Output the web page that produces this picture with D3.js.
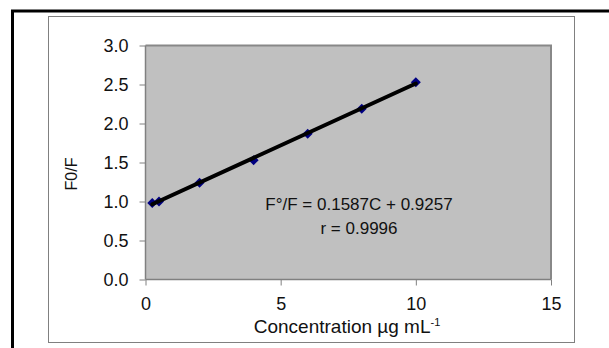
<!DOCTYPE html>
<html>
<head>
<meta charset="utf-8">
<script src="https://cdn.jsdelivr.net/npm/d3@7"></script>
<style>
  html, body { margin: 0; padding: 0; background: #fff; }
  svg { display: block; font-family: "Liberation Sans", Arial, sans-serif; }
</style>
</head>
<body>
<svg id="chart" width="609" height="348"></svg>
<script>
// ===== Data =====
const concentration = [0.25, 0.5, 2, 4, 6, 8, 10];
const ratio         = [0.98, 1.00, 1.24, 1.53, 1.87, 2.19, 2.53];
const xTicks        = [0, 5, 10, 15];
const yTicks        = [0, 0.5, 1.0, 1.5, 2.0, 2.5, 3.0];
const fitSlope      = 0.1587;
const fitIntercept  = 0.9257;
const equationLines = ['F°/F = 0.1587C + 0.9257', 'r = 0.9996'];

const svg = d3.select('#chart');

// --- Frames: outer black border, inner gray chart box ---
svg.append('line').attr('x1', 12.5).attr('y1', 11).attr('x2', 12.5).attr('y2', 348)
    .style('stroke', '#000').style('stroke-width', 3);
svg.append('line').attr('x1', 11).attr('y1', 11).attr('x2', 609).attr('y2', 11)
    .style('stroke', '#000').style('stroke-width', 3);
svg.append('rect').attr('x', 48.5).attr('y', 16.5).attr('width', 526).attr('height', 326)
    .style('fill', '#fff').style('stroke', '#808080').style('stroke-width', 1);

// --- Scales ---
const x = d3.scaleLinear().domain([0, 15]).range([145.5, 551]);
const y = d3.scaleLinear().domain([0, 3]).range([279.5, 45.5]);

// --- Plot area ---
svg.append('rect')
    .attr('x', x(0)).attr('y', y(3))
    .attr('width', x(15) - x(0)).attr('height', y(0) - y(3))
    .style('fill', '#c0c0c0');
// top and right border of plot area
svg.append('path')
    .attr('d', `M${x(0)},${y(3)}H${x(15)}V${y(0)}`)
    .style('fill', 'none').style('stroke', '#888').style('stroke-width', 2);

// --- Axes ---
const xAxis = svg.append('g')
    .attr('transform', `translate(0,${y(0)})`)
    .call(d3.axisBottom(x).tickValues(xTicks).tickSize(6).tickPadding(12).tickFormat(d3.format('d')));
const yAxis = svg.append('g')
    .attr('transform', `translate(${x(0)},0)`)
    .call(d3.axisLeft(y).tickValues(yTicks).tickSize(6).tickPadding(11).tickFormat(d3.format('.1f')));

[xAxis, yAxis].forEach(ax => {
    ax.select('.domain').style('stroke', '#808080').style('stroke-width', 1.5);
    ax.selectAll('.tick line').style('stroke', '#808080');
    ax.selectAll('.tick text')
        .style('font-size', '18px')
        .style('font-family', '"Liberation Sans", Arial, sans-serif')
        .style('fill', '#111');
});
yAxis.select('.domain').attr('d', `M0,${y(3)}V${y(0)}`);
xAxis.select('.domain').attr('d', `M${x(0)},0H${x(15)}`);

// --- Markers (navy diamonds: rotated squares) ---
const square = d3.symbol().type(d3.symbolSquare).size(50);
svg.append('g').selectAll('path')
    .data(concentration.map((c, i) => ({ c, r: ratio[i] })))
    .join('path')
    .attr('d', square)
    .attr('transform', d => `translate(${x(d.c)},${y(d.r)}) rotate(45)`)
    .style('fill', '#000080');

// --- Trend line ---
const cMin = d3.min(concentration), cMax = d3.max(concentration);
svg.append('line')
    .attr('x1', x(cMin)).attr('y1', y(fitSlope * cMin + fitIntercept))
    .attr('x2', x(cMax)).attr('y2', y(fitSlope * cMax + fitIntercept))
    .style('stroke', '#000').style('stroke-width', 4).style('stroke-linecap', 'round');

// --- Equation annotation ---
svg.append('g').selectAll('text')
    .data(equationLines)
    .join('text')
    .attr('x', 359)
    .attr('y', (d, i) => 210 + i * 24)
    .attr('text-anchor', 'middle')
    .style('font-size', '17px')
    .style('fill', '#111')
    .text(d => d);

// --- Axis titles ---
svg.append('text')
    .attr('transform', 'translate(77,174) rotate(-90)')
    .attr('text-anchor', 'middle')
    .style('font-size', '16px')
    .style('fill', '#111')
    .text('F0/F');

const xTitle = svg.append('text')
    .attr('x', 347).attr('y', 333)
    .attr('text-anchor', 'middle')
    .style('font-size', '19px')
    .style('fill', '#111');
xTitle.append('tspan').text('Concentration µg mL');
xTitle.append('tspan').attr('dy', -7).style('font-size', '11px').text('-1');
</script>
</body>
</html>
